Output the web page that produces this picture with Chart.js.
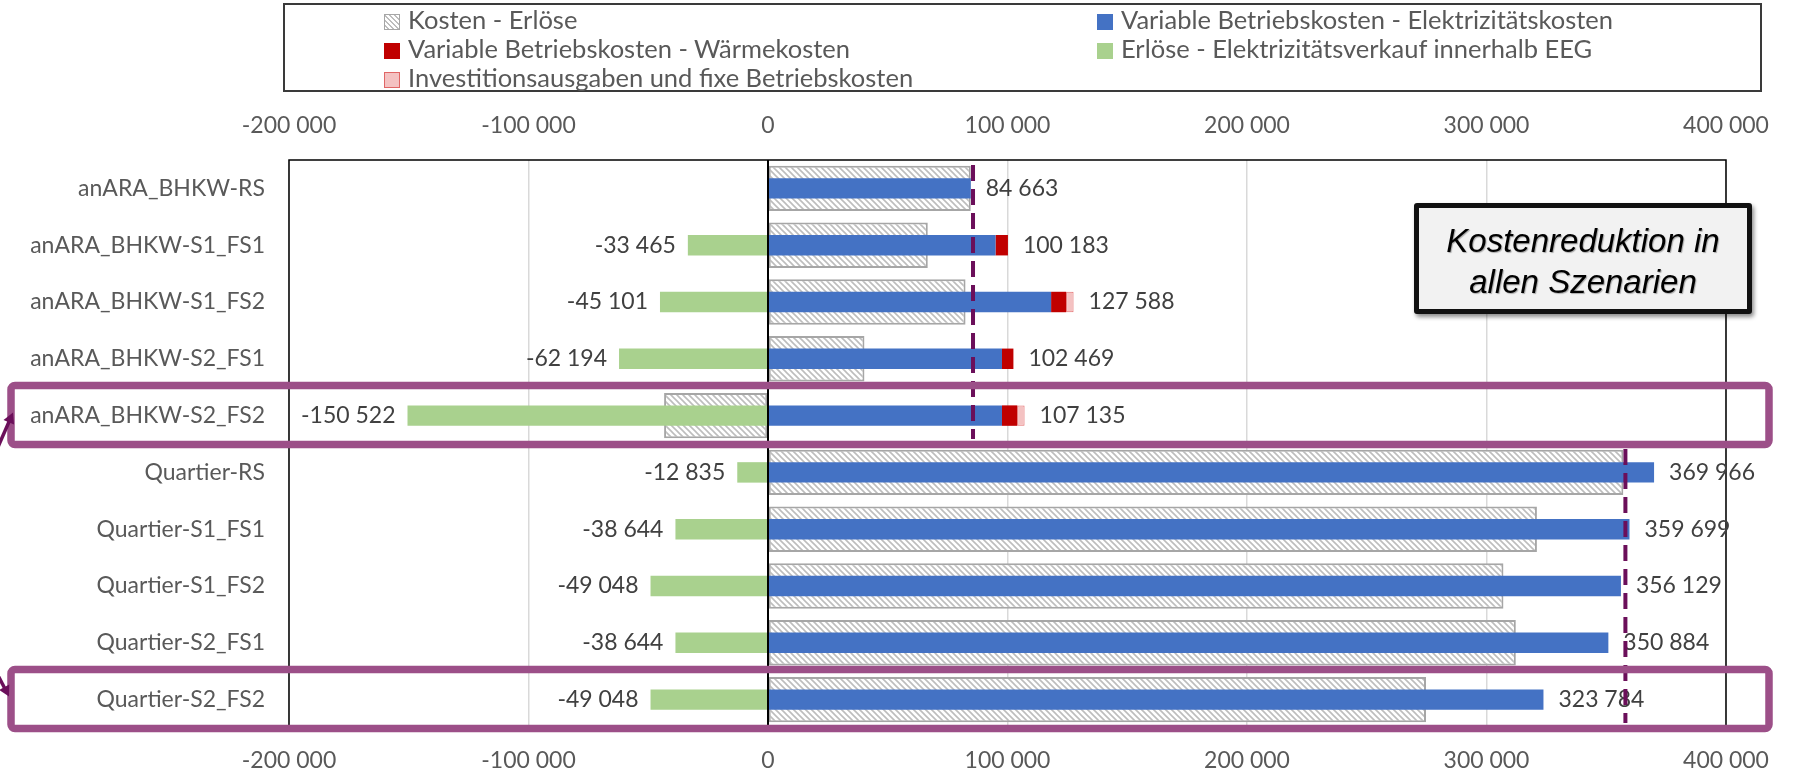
<!DOCTYPE html>
<html lang="de">
<head>
<meta charset="utf-8">
<script src="https://cdn.jsdelivr.net/npm/chart.js@4.4.1/dist/chart.umd.min.js"></script>
<style>
    body { margin: 0; background: #fff; }
    #wrap { position: relative; width: 1793px; height: 778px; overflow: hidden; font-family: Lato, sans-serif; }
    #diagramm { position: absolute; left: 0; top: 0; }
    #legendenRahmen { position: absolute; left: 283px; top: 3px; width: 1475px; height: 85px; border: 2px solid #3a3a3a; }
    .eintrag { position: absolute; height: 29px; line-height: 29px; font-size: 25.5px; color: #595959; white-space: nowrap; }
    .feld { display: inline-block; width: 14px; height: 14px; margin-right: 8px; vertical-align: -1px; border: 1px solid transparent; }
    #hinweis { position: absolute; left: 1414px; top: 203px; width: 328px; height: 89.5px; border: 5px solid #111; border-radius: 3px;
               background: #F2F2F2; box-shadow: 2px 3px 4px rgba(0,0,0,0.45); text-align: center;
               font: italic 33px "Liberation Sans", Arial, sans-serif; line-height: 41px; color: #000;
               text-shadow: 1px 1px 1px rgba(0,0,0,0.3); padding-top: 11.5px; box-sizing: content-box; }
</style>
</head>
<body>
<div id="wrap">
    <canvas id="diagramm" width="1793" height="778"></canvas>
    <div id="legendenRahmen"></div>
    <div id="hinweis">Kostenreduktion in<br>allen Szenarien</div>
</div>
<script>
var kategorien = [
    'anARA_BHKW-RS',
    'anARA_BHKW-S1_FS1',
    'anARA_BHKW-S1_FS2',
    'anARA_BHKW-S2_FS1',
    'anARA_BHKW-S2_FS2',
    'Quartier-RS',
    'Quartier-S1_FS1',
    'Quartier-S1_FS2',
    'Quartier-S2_FS1',
    'Quartier-S2_FS2'
];
var kostenMinusErloese = [84663, 66718, 82487, 40275, -43387, 357131, 321055, 307081, 312240, 274736];
var stromkosten = [84663, 95000, 118200, 97700, 97700, 369966, 359699, 356129, 350884, 323784];
var waermekosten = [null, 5183, 6300, 4769, 6400, null, null, null, null, null];
var eegErloese = [null, -33465, -45101, -62194, -150522, -12835, -38644, -49048, -38644, -49048];
var investFix = [null, null, 3088, null, 3035, null, null, null, null, null];

// Referenzszenario je Gruppe (gestrichelte Linie), erste und letzte Zeile der Gruppe
var referenzWerte = [85600, 358000];
var referenzGruppen = [[0, 4], [5, 9]];
var markierteZeilen = [4, 9];

var xTicks = [-200000, -100000, 0, 100000, 200000, 300000, 400000];

var schriftGrau = '#595959';
var schrift = { family: 'Lato', size: 23 };

function zahl(v) {
    var s = String(Math.abs(Math.round(v))).replace(/\B(?=(\d{3})+(?!\d))/g, ' ');
    return (v < 0 ? '-' : '') + s;
}

function schraffur() {
    var c = document.createElement('canvas');
    c.width = 6; c.height = 6;
    var g = c.getContext('2d');
    g.fillStyle = '#fff';
    g.fillRect(0, 0, 6, 6);
    g.strokeStyle = '#BDBDBD';
    g.lineWidth = 1.6;
    g.beginPath();
    g.moveTo(-1, -1); g.lineTo(7, 7);
    g.moveTo(-1, 5); g.lineTo(1, 7);
    g.moveTo(5, -1); g.lineTo(7, 1);
    g.stroke();
    return g.createPattern(c, 'repeat');
}

var rahmen = {
    id: 'rahmen',
    beforeDatasetsDraw: function (chart) {
        var a = chart.chartArea, ctx = chart.ctx;
        ctx.save();
        ctx.strokeStyle = '#000';
        ctx.lineWidth = 1.5;
        ctx.strokeRect(a.left, a.top, a.right - a.left, a.bottom - a.top);
        ctx.restore();
    },
    afterDatasetsDraw: function (chart) {
        var ctx = chart.ctx, x = chart.scales.x, y = chart.scales.y, a = chart.chartArea;
        ctx.save();
        // Nulllinie
        ctx.strokeStyle = '#000';
        ctx.lineWidth = 2;
        ctx.beginPath();
        ctx.moveTo(x.getPixelForValue(0), a.top);
        ctx.lineTo(x.getPixelForValue(0), a.bottom);
        ctx.stroke();

        // Werte an den Balken
        ctx.font = schrift.size + 'px ' + schrift.family;
        ctx.fillStyle = '#404040';
        ctx.textBaseline = 'middle';
        var band = y.getPixelForValue(1) - y.getPixelForValue(0);
        for (var i = 0; i < kategorien.length; i++) {
            var yy = y.getPixelForValue(i);
            var summe = (stromkosten[i] || 0) + (waermekosten[i] || 0) + (investFix[i] || 0);
            ctx.textAlign = 'left';
            ctx.fillText(zahl(summe), x.getPixelForValue(summe) + 15, yy);
            if (eegErloese[i]) {
                ctx.textAlign = 'right';
                ctx.fillText(zahl(eegErloese[i]), x.getPixelForValue(eegErloese[i]) - 12, yy);
            }
        }

        // gestrichelte Referenzlinien
        ctx.strokeStyle = '#6B0F5A';
        ctx.lineWidth = 4;
        ctx.setLineDash([16, 8]);
        referenzWerte.forEach(function (w, k) {
            var xp = x.getPixelForValue(w);
            ctx.beginPath();
            ctx.moveTo(xp, y.getPixelForValue(referenzGruppen[k][0]) - band * 0.41);
            ctx.lineTo(xp, y.getPixelForValue(referenzGruppen[k][1]) + band * 0.41);
            ctx.stroke();
        });
        ctx.restore();
    },
    afterDraw: function (chart) {
        var ctx = chart.ctx, y = chart.scales.y;
        var band = y.getPixelForValue(1) - y.getPixelForValue(0);
        ctx.save();
        ctx.strokeStyle = '#9C4F88';
        ctx.lineWidth = 7.5;
        markierteZeilen.forEach(function (i) {
            var yc = y.getPixelForValue(i);
            ctx.beginPath();
            ctx.roundRect(11, yc - band * 0.53, 1758, band * 1.04, 4);
            ctx.stroke();
        });
        // Pfeilspitzen am linken Rand
        ctx.strokeStyle = '#6B0F5A';
        ctx.fillStyle = '#6B0F5A';
        ctx.lineWidth = 3.5;
        function pfeil(x0, y0, x1, y1) {
            var w = Math.atan2(y1 - y0, x1 - x0);
            ctx.beginPath();
            ctx.moveTo(x0, y0);
            ctx.lineTo(x1 - 6 * Math.cos(w), y1 - 6 * Math.sin(w));
            ctx.stroke();
            ctx.beginPath();
            ctx.moveTo(x1, y1);
            ctx.lineTo(x1 - 12 * Math.cos(w - 0.5), y1 - 12 * Math.sin(w - 0.5));
            ctx.lineTo(x1 - 12 * Math.cos(w + 0.5), y1 - 12 * Math.sin(w + 0.5));
            ctx.closePath();
            ctx.fill();
        }
        var y4 = y.getPixelForValue(markierteZeilen[0]);
        var y9 = y.getPixelForValue(markierteZeilen[1]);
        pfeil(-4, y4 + 36, 13, y4 - 3);
        pfeil(-4, y9 - 28, 9, y9 - 3);
        ctx.restore();
    }
};

function achsenTicks(scale) {
    scale.ticks = xTicks.map(function (v) { return { value: v }; });
}

var datensaetze = [
    {
        label: 'Kosten - Erlöse',
        data: kostenMinusErloese,
        backgroundColor: schraffur(),
        borderColor: '#A6A6A6',
        borderWidth: 2,
        borderSkipped: false,
        stack: 'netto',
        order: 1,
        grouped: false,
        categoryPercentage: 1,
        barPercentage: 0.8,
        legendeFeld: 'background: repeating-linear-gradient(45deg, #fff 0 2px, #bdbdbd 2px 3.5px); border-color: #A6A6A6;'
    },
    {
        label: 'Variable Betriebskosten - Elektrizitätskosten',
        data: stromkosten,
        backgroundColor: '#4472C4',
        stack: 'kosten',
        order: 0,
        grouped: false,
        categoryPercentage: 1,
        barPercentage: 0.36,
        legendeFeld: 'background: #4472C4;'
    },
    {
        label: 'Variable Betriebskosten - Wärmekosten',
        data: waermekosten,
        backgroundColor: '#C00000',
        stack: 'kosten',
        order: 0,
        grouped: false,
        categoryPercentage: 1,
        barPercentage: 0.36,
        legendeFeld: 'background: #C00000;'
    },
    {
        label: 'Erlöse - Elektrizitätsverkauf innerhalb EEG',
        data: eegErloese,
        backgroundColor: '#A9D18E',
        stack: 'kosten',
        order: 0,
        grouped: false,
        categoryPercentage: 1,
        barPercentage: 0.36,
        legendeFeld: 'background: #A9D18E;'
    },
    {
        label: 'Investitionsausgaben und fixe Betriebskosten',
        data: investFix,
        backgroundColor: '#F4C2C2',
        borderColor: '#E46C6C',
        borderWidth: 1,
        borderSkipped: false,
        stack: 'kosten',
        order: 0,
        grouped: false,
        categoryPercentage: 1,
        barPercentage: 0.36,
        legendeFeld: 'background: #F4C2C2; border-color: #E06666;'
    }
];

var diagramm = new Chart(document.getElementById('diagramm'), {
    type: 'bar',
    data: { labels: kategorien, datasets: datensaetze },
    options: {
        indexAxis: 'y',
        responsive: false,
        animation: false,
        devicePixelRatio: 1,
        layout: { padding: { left: 0, right: 67, top: 0, bottom: 0 } },
        plugins: { legend: { display: false }, tooltip: { enabled: false } },
        scales: {
            x: {
                stacked: true,
                position: 'bottom',
                min: -200000,
                max: 400000,
                afterBuildTicks: achsenTicks,
                afterFit: function (s) { s.height = 50; },
                grid: { color: function (c) { return c.tick && c.tick.value === 0 ? 'rgba(0,0,0,0)' : '#D9D9D9'; }, lineWidth: 1.5, drawTicks: false },
                border: { display: false },
                ticks: { padding: 19, color: schriftGrau, font: schrift, maxRotation: 0, callback: function (v) { return zahl(v); } }
            },
            x2: {
                type: 'linear',
                position: 'top',
                min: -200000,
                max: 400000,
                afterBuildTicks: achsenTicks,
                afterFit: function (s) { s.height = 160; },
                grid: { display: false, drawTicks: false },
                border: { display: false },
                ticks: { padding: 21, color: schriftGrau, font: schrift, maxRotation: 0, callback: function (v) { return zahl(v); } }
            },
            y: {
                afterFit: function (s) { s.width = 289; },
                grid: { display: false, drawTicks: false },
                border: { display: false },
                ticks: { padding: 24, color: schriftGrau, font: schrift, autoSkip: false }
            }
        }
    },
    plugins: [rahmen]
});

// Legende in zwei Spalten wie im Original
var zeilenMitte = [19, 48, 77];
var spalteLinks = [384, 1097];
var wrap = document.getElementById('wrap');
diagramm.data.datasets.forEach(function (ds, i) {
    var el = document.createElement('div');
    el.className = 'eintrag';
    el.style.left = spalteLinks[i % 2] + 'px';
    el.style.top = (zeilenMitte[Math.floor(i / 2)] - 14.5) + 'px';
    el.innerHTML = '<span class="feld" style="' + ds.legendeFeld + '"></span>' + ds.label;
    wrap.appendChild(el);
});
</script>
</body>
</html>
